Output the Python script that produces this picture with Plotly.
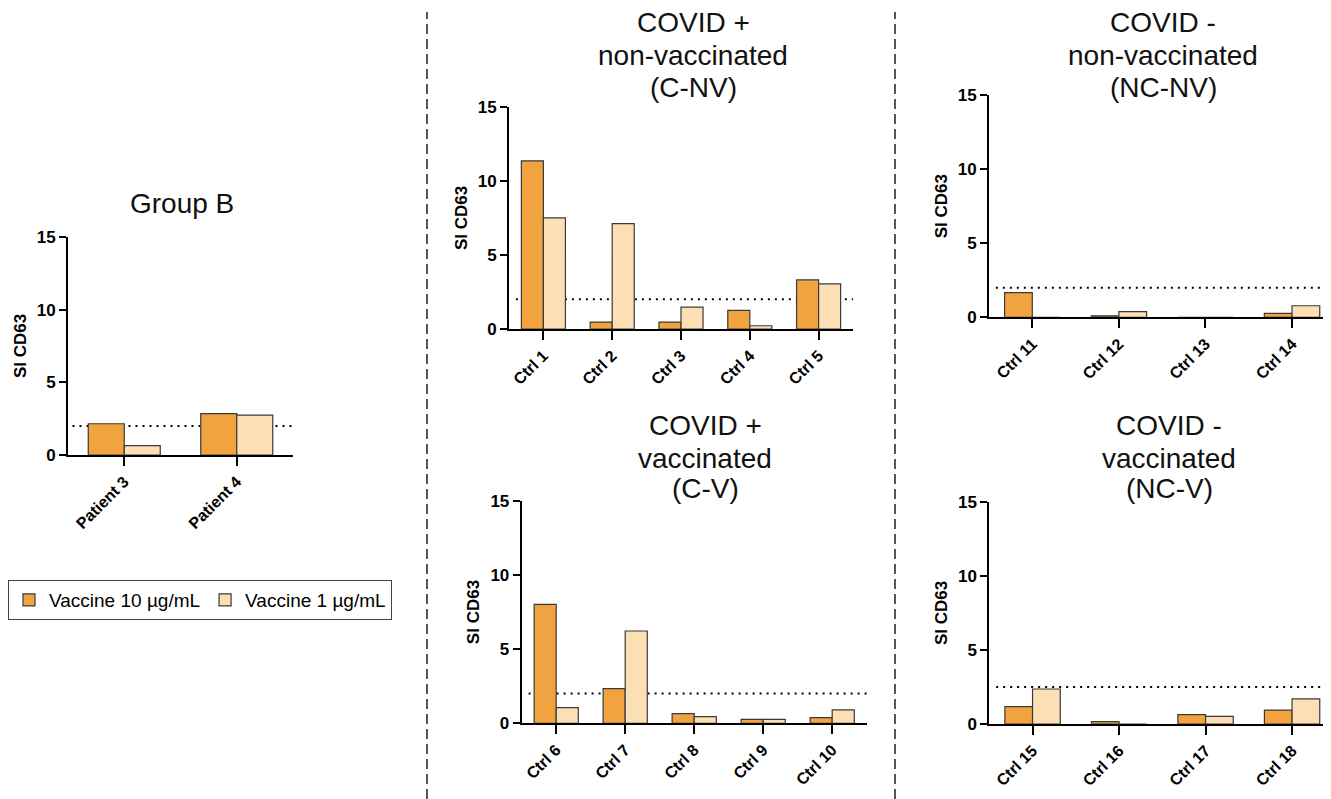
import plotly.graph_objects as go

# The page body adds an 8px margin, so the figure is drawn 8px smaller
OFF = 8
W, H = 1331 - OFF, 799 - OFF

# ---------------- data ----------------
series_names = ["Vaccine 10 µg/mL", "Vaccine 1 µg/mL"]

groupb_labels = ["Patient 3", "Patient 4"]
groupb_10 = [2.15, 2.85]
groupb_1 = [0.65, 2.75]
groupb_threshold = 2.0

cnv_labels = ["Ctrl 1", "Ctrl 2", "Ctrl 3", "Ctrl 4", "Ctrl 5"]
cnv_10 = [11.35, 0.47, 0.47, 1.26, 3.31]
cnv_1 = [7.5, 7.11, 1.47, 0.22, 3.04]
cnv_threshold = 2.0

ncnv_labels = ["Ctrl 11", "Ctrl 12", "Ctrl 13", "Ctrl 14"]
ncnv_10 = [1.66, 0.1, 0.0, 0.27]
ncnv_1 = [0.0, 0.38, 0.0, 0.78]
ncnv_threshold = 2.0

cv_labels = ["Ctrl 6", "Ctrl 7", "Ctrl 8", "Ctrl 9", "Ctrl 10"]
cv_10 = [8.02, 2.33, 0.65, 0.27, 0.38]
cv_1 = [1.05, 6.22, 0.45, 0.27, 0.9]
cv_threshold = 2.0

ncv_labels = ["Ctrl 15", "Ctrl 16", "Ctrl 17", "Ctrl 18"]
ncv_10 = [1.17, 0.16, 0.63, 0.94]
ncv_1 = [2.36, 0.0, 0.52, 1.69]
ncv_threshold = 2.5

y_ticks = [0, 5, 10, 15]
y_title = "SI CD63"

# ---------------- styles ----------------
colors = ["#F0A33F", "#FDDFB5"]
edge = "#3a3a3a"
FONT = "Liberation Sans, Arial, sans-serif"


def px_x(v):
    return (v - OFF) / W


def px_y(v):
    return 1 - (v - OFF) / H


# panel layout (pixel geometry in the 1331x799 window)
panels = [
    dict(labels=groupb_labels, v10=groupb_10, v1=groupb_1, thr=groupb_threshold,
         xpx=(68, 293), ypx=(455, 237), xr=(-0.5, 1.5),
         title=["Group B"], tx=182, ty=[204]),
    dict(labels=cnv_labels, v10=cnv_10, v1=cnv_1, thr=cnv_threshold,
         xpx=(509, 853), ypx=(329, 106.7), xr=(-0.5, 4.5),
         title=["COVID +", "non-vaccinated", "(C-NV)"], tx=693, ty=[23, 55, 88]),
    dict(labels=ncnv_labels, v10=ncnv_10, v1=ncnv_1, thr=ncnv_threshold,
         xpx=(989, 1331), ypx=(317.3, 95), xr=(-0.5, 3.45),
         title=["COVID -", "non-vaccinated", "(NC-NV)"], tx=1163, ty=[23, 55, 88]),
    dict(labels=cv_labels, v10=cv_10, v1=cv_1, thr=cv_threshold,
         xpx=(521.7, 866.7), ypx=(723.3, 500.7), xr=(-0.5, 4.5),
         title=["COVID +", "vaccinated", "(C-V)"], tx=705, ty=[425, 458, 489]),
    dict(labels=ncv_labels, v10=ncv_10, v1=ncv_1, thr=ncv_threshold,
         xpx=(989.3, 1331), ypx=(724, 501.7), xr=(-0.5, 3.45),
         title=["COVID -", "vaccinated", "(NC-V)"], tx=1169, ty=[425, 458, 489]),
]

fig = go.Figure()
annotations = []
shapes = []

for i, p in enumerate(panels):
    n = "" if i == 0 else str(i + 1)
    xa, ya = "x" + n, "y" + n
    for s, (vals, name) in enumerate(zip([p["v10"], p["v1"]], series_names)):
        fig.add_trace(go.Bar(
            x=p["labels"], y=vals, name=name,
            marker=dict(color=colors[s], line=dict(color=edge, width=1.2)),
            xaxis=xa, yaxis=ya, showlegend=(i == 0),
            legendgroup=name, offsetgroup=str(s),
        ))
    xdom = [px_x(p["xpx"][0]), min(1.0, px_x(p["xpx"][1]))]
    ydom = [px_y(p["ypx"][0]), px_y(p["ypx"][1])]
    fig.layout["xaxis" + n] = dict(
        domain=xdom, anchor=ya, range=list(p["xr"]), type="category",
        showline=True, linecolor="black", linewidth=2,
        ticks="outside", ticklen=9, tickwidth=2, tickcolor="black",
        tickangle=-45, tickfont=dict(family=FONT, size=16, color="black", weight="bold"),
        showgrid=False, zeroline=False, automargin=False, fixedrange=True,
    )
    fig.layout["yaxis" + n] = dict(
        domain=ydom, anchor=xa, range=[0, 15], tickvals=y_ticks,
        showline=True, linecolor="black", linewidth=2,
        ticks="outside", ticklen=7, tickwidth=2, tickcolor="black",
        tickfont=dict(family=FONT, size=17, color="black", weight="bold"),
        title=dict(text=y_title, font=dict(family=FONT, size=17, color="black", weight="bold"),
                   standoff=6),
        showgrid=False, zeroline=False, automargin=False, fixedrange=True,
    )
    # threshold dotted line
    shapes.append(dict(
        type="line", xref=xa + " domain", yref=ya, x0=0.02, x1=1,
        y0=p["thr"], y1=p["thr"], layer="below",
        line=dict(color="black", width=2, dash="2px,5px"),
    ))
    # title lines
    for line, ty in zip(p["title"], p["ty"]):
        annotations.append(dict(
            text=line, xref="paper", yref="paper", x=px_x(p["tx"]), y=px_y(ty),
            xanchor="center", yanchor="middle", showarrow=False,
            font=dict(family=FONT, size=28, color="#111111"),
        ))

# vertical dashed separators
for xs in [427, 895]:
    shapes.append(dict(
        type="line", xref="paper", yref="paper", x0=px_x(xs), x1=px_x(xs),
        y0=0, y1=px_y(12), line=dict(color="#555555", width=2, dash="10px,5px"),
    ))

fig.update_layout(
    width=W, height=H, margin=dict(l=0, r=0, t=0, b=0),
    paper_bgcolor="white", plot_bgcolor="rgba(0,0,0,0)",
    barmode="group", bargap=0.36, bargroupgap=0,
    shapes=shapes, annotations=annotations,
    showlegend=True,
    legend=dict(
        orientation="h", x=px_x(8), y=px_y(580), xanchor="left", yanchor="top",
        bgcolor="white", bordercolor="#444444", borderwidth=1,
        font=dict(family=FONT, size=19, color="black"),
        traceorder="normal",
    ),
    font=dict(family=FONT),
)

fig.write_html("out.html")
